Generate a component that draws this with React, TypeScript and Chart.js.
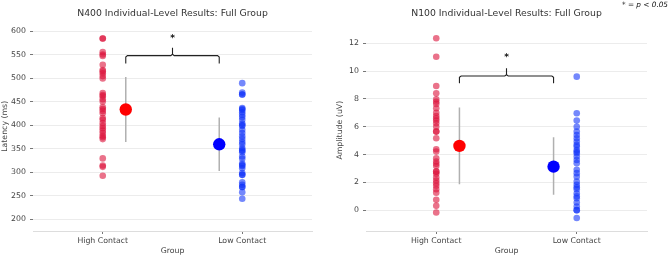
import React, { useEffect, useRef } from "react";
import { Chart, registerables } from "chart.js";

Chart.register(...registerables);

const groups = ["High Contact", "Low Contact"];

// N400 latency (ms)
const n400High = [584, 584, 555, 550, 547, 528, 517, 514, 510, 504, 499, 468, 464, 461, 455, 450, 438, 434, 430, 425, 415, 411, 404, 398, 393, 388, 383, 377, 374, 370, 329, 314, 311, 292];
const n400Low = [489, 469, 465, 465, 436, 434, 432, 427, 422, 417, 411, 403, 400, 398, 390, 383, 376, 370, 364, 359, 351, 347, 345, 342, 333, 328, 318, 315, 313, 308, 298, 294, 294, 278, 273, 268, 268, 257, 243];
const n400Means = [433, 359];
const n400Lo = [364, 302];
const n400Hi = [502, 416];
const n400Ticks = [200, 250, 300, 350, 400, 450, 500, 550, 600];
const n400Range = [174.5, 620];
const n400Bracket = [531, 547.6, 564.5, 588]; // end, bar, tip, star

// N100 amplitude (uV)
const n100High = [12.36, 11.03, 8.93, 8.4, 7.97, 7.8, 7.64, 7.33, 7.0, 6.77, 6.6, 6.44, 6.25, 6.0, 5.65, 5.65, 5.17, 4.38, 4.21, 3.73, 3.49, 3.33, 3.18, 2.77, 2.77, 2.61, 2.34, 2.13, 1.94, 1.75, 1.51, 1.26, 0.74, 0.31, -0.17];
const n100Low = [9.6, 6.97, 6.44, 6.0, 5.65, 5.41, 5.17, 4.93, 4.7, 4.57, 4.33, 4.2, 4.09, 3.85, 3.61, 3.38, 2.9, 2.66, 2.41, 2.05, 1.82, 1.65, 1.51, 1.22, 1.0, 0.86, 0.55, 0.26, 0.0, 0.0, -0.57];
const n100Means = [4.62, 3.13];
const n100Lo = [1.87, 1.1];
const n100Hi = [7.38, 5.25];
const n100Ticks = [0, 2, 4, 6, 8, 10, 12];
const n100Range = [-1.5, 13];
const n100Bracket = [9.13, 9.65, 10.2, 11.09];

const meanOffset = [0.165, 0.835];
const FONT = "'DejaVu Sans', sans-serif";

Chart.defaults.font.family = FONT;

type Cfg = {
  title: string;
  yTitle: string;
  high: number[];
  low: number[];
  means: number[];
  lo: number[];
  hi: number[];
  ticks: number[];
  range: number[];
  bracket: number[];
  yWidth: number;
  padRight: number;
  padTop: number;
  footnote: boolean;
};

function buildChart(canvas: HTMLCanvasElement, c: Cfg) {
  const [bEnd, bBar, bTip] = c.bracket;
  const x1 = meanOffset[0];
  const x2 = meanOffset[1];
  const dy = (bBar - bEnd) * 0.18;
  const bracketPts = [
    { x: x1, y: bEnd },
    { x: x1, y: bBar - dy },
    { x: x1 + 0.012, y: bBar },
    { x: 0.488, y: bBar },
    { x: 0.5, y: bBar + dy },
    { x: 0.5, y: bTip },
    { x: 0.5, y: bBar + dy },
    { x: 0.512, y: bBar },
    { x: x2 - 0.012, y: bBar },
    { x: x2, y: bBar - dy },
    { x: x2, y: bEnd },
  ];

  const textPlugin = {
    id: "texts",
    afterDraw(chart: any) {
      const ctx = chart.ctx;
      const area = chart.chartArea;
      ctx.save();
      ctx.fillStyle = "#333";
      ctx.font = `9.3px ${FONT}`;
      ctx.textAlign = "center";
      ctx.textBaseline = "middle";
      ctx.fillText(c.title, (area.left + area.right) / 2, 14);
      const xs = chart.scales.x;
      const ys = chart.scales.y;
      ctx.fillStyle = "#111";
      ctx.font = `bold 9px ${FONT}`;
      ctx.fillText("*", xs.getPixelForValue(0.5), ys.getPixelForValue(c.bracket[3]) + 2);
      if (c.footnote) {
        ctx.font = `italic 7.3px ${FONT}`;
        ctx.textAlign = "right";
        ctx.fillStyle = "#111";
        ctx.fillText("* = p < 0.05", chart.width - 1, 5.5);
      }
      ctx.restore();
    },
  };

  return new Chart(canvas, {
    type: "scatter",
    data: {
      datasets: [
        {
          label: "meanHigh",
          data: [{ x: meanOffset[0], y: c.means[0] }],
          backgroundColor: "#ff0000",
          borderWidth: 0,
          pointRadius: 6.2,
        },
        {
          label: "meanLow",
          data: [{ x: meanOffset[1], y: c.means[1] }],
          backgroundColor: "#0000ff",
          borderWidth: 0,
          pointRadius: 6.2,
        },
        {
          label: "errHigh",
          data: [{ x: meanOffset[0], y: c.lo[0] }, { x: meanOffset[0], y: c.hi[0] }],
          showLine: true,
          borderColor: "#b0b0b0",
          borderWidth: 1.5,
          pointRadius: 0,
        },
        {
          label: "errLow",
          data: [{ x: meanOffset[1], y: c.lo[1] }, { x: meanOffset[1], y: c.hi[1] }],
          showLine: true,
          borderColor: "#b0b0b0",
          borderWidth: 1.5,
          pointRadius: 0,
        },
        {
          label: "bracket",
          data: bracketPts,
          showLine: true,
          borderColor: "#222",
          borderWidth: 1.1,
          pointRadius: 0,
          tension: 0,
        },
        {
          label: groups[0],
          data: c.high.map((v) => ({ x: 0, y: v })),
          backgroundColor: "rgba(220,20,60,0.6)",
          borderWidth: 0,
          pointRadius: 3.3,
        },
        {
          label: groups[1],
          data: c.low.map((v) => ({ x: 1, y: v })),
          backgroundColor: "rgba(15,50,250,0.58)",
          borderWidth: 0,
          pointRadius: 3.3,
        },
      ],
    },
    options: {
      responsive: false,
      animation: false,
      events: [],
      layout: { padding: { left: 0, right: c.padRight, top: c.padTop, bottom: 0 } },
      plugins: { legend: { display: false }, tooltip: { enabled: false }, title: { display: false } },
      scales: {
        x: {
          type: "linear",
          min: -0.5,
          max: 1.5,
          afterBuildTicks: (s: any) => {
            s.ticks = [{ value: 0 }, { value: 1 }];
          },
          afterFit: (s: any) => {
            s.height = 25;
          },
          ticks: {
            callback: (v: any) => groups[Math.round(Number(v))],
            font: { size: 7.8 },
            color: "#444",
            padding: 2,
            maxRotation: 0,
            autoSkip: false,
          },
          grid: { drawOnChartArea: false, drawTicks: true, tickLength: 3, tickColor: "#777", lineWidth: 1 },
          border: { display: true, color: "#dddddd", width: 1 },
          title: { display: true, text: "Group", font: { size: 7.8 }, color: "#444", padding: { top: 0, bottom: 0 } },
        },
        y: {
          type: "linear",
          min: c.range[0],
          max: c.range[1],
          afterBuildTicks: (s: any) => {
            s.ticks = c.ticks.map((v) => ({ value: v }));
          },
          afterFit: (s: any) => {
            s.width = c.yWidth;
          },
          ticks: { font: { size: 7.8 }, color: "#444", padding: 4 },
          grid: { color: "#ececec", lineWidth: 1, drawTicks: true, tickLength: 3, tickColor: "#777" },
          border: { display: false },
          title: { display: true, text: c.yTitle, font: { size: 7.8 }, color: "#444", padding: { top: 0, bottom: 0 } },
        },
      },
    },
    plugins: [textPlugin],
  } as any);
}

function Panel(props: { cfg: Cfg; left: number; width: number }) {
  const ref = useRef<HTMLCanvasElement | null>(null);
  useEffect(() => {
    if (!ref.current) return;
    const ch = buildChart(ref.current, props.cfg);
    return () => ch.destroy();
  }, []);
  return (
    <div style={{ position: "absolute", left: props.left, top: 0, width: props.width, height: 256 }}>
      <canvas ref={ref} width={props.width} height={256} style={{ display: "block" }} />
    </div>
  );
}

export default function App() {
  const left: Cfg = {
    title: "N400 Individual-Level Results: Full Group",
    yTitle: "Latency (ms)",
    high: n400High,
    low: n400Low,
    means: n400Means,
    lo: n400Lo,
    hi: n400Hi,
    ticks: n400Ticks,
    range: n400Range,
    bracket: n400Bracket,
    yWidth: 33,
    padRight: 23,
    padTop: 21.6,
    footnote: false,
  };
  const right: Cfg = {
    title: "N100 Individual-Level Results: Full Group",
    yTitle: "Amplitude (uV)",
    high: n100High,
    low: n100Low,
    means: n100Means,
    lo: n100Lo,
    hi: n100Hi,
    ticks: n100Ticks,
    range: n100Range,
    bracket: n100Bracket,
    yWidth: 31,
    padRight: 22,
    padTop: 29.4,
    footnote: true,
  };
  return (
    <div style={{ position: "fixed", left: 0, top: 0, width: 669, height: 256, background: "#fff", overflow: "hidden" }}>
      <Panel cfg={left} left={0} width={335} />
      <Panel cfg={right} left={335} width={334} />
    </div>
  );
}
